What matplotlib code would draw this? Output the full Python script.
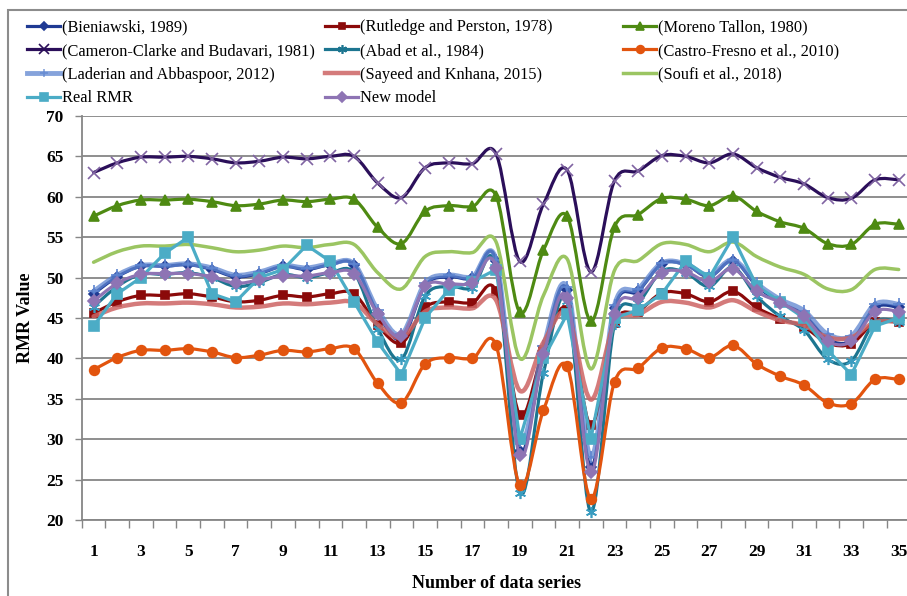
import matplotlib.pyplot as plt
import numpy as np
from matplotlib.path import Path
from matplotlib.patches import PathPatch, Rectangle
from matplotlib.lines import Line2D

plt.rcParams['font.family'] = ['Liberation Serif', 'DejaVu Serif']

series_no = list(range(1, 36))

bieniawski = [48.0, 50.1, 51.4, 51.4, 51.6, 51.0, 50.1, 50.5, 51.4, 51.0, 51.6, 51.6, 45.6, 42.4, 49.0, 50.1, 49.9, 52.1,
              28.6, 40.9, 48.5, 26.5, 46.2, 48.3, 51.7, 51.6, 50.1, 52.1, 49.0, 46.9, 45.4, 42.4, 42.2, 46.3, 46.3]
rutledge = [45.6, 47.0, 47.8, 47.8, 48.0, 47.6, 47.0, 47.2, 47.8, 47.6, 48.0, 48.0, 44.1, 41.9, 46.3, 47.0, 46.9, 48.3,
            33.0, 41.0, 46.0, 31.7, 44.4, 45.8, 48.1, 48.0, 47.0, 48.3, 46.3, 44.9, 43.9, 41.9, 41.8, 44.5, 44.5]
moreno = [57.6, 58.9, 59.6, 59.6, 59.7, 59.4, 58.9, 59.1, 59.6, 59.4, 59.7, 59.7, 56.2, 54.2, 58.2, 58.9, 58.8, 60.1,
          45.7, 53.4, 57.6, 44.6, 56.3, 57.8, 59.8, 59.7, 58.9, 60.1, 58.2, 56.9, 56.1, 54.2, 54.1, 56.6, 56.6]
cameron = [63.0, 64.2, 64.9, 64.9, 65.0, 64.7, 64.2, 64.4, 64.9, 64.7, 65.0, 65.0, 61.7, 59.9, 63.6, 64.2, 64.1, 65.3,
           52.0, 59.1, 63.3, 50.7, 62.0, 63.2, 65.1, 65.0, 64.2, 65.3, 63.6, 62.4, 61.6, 59.9, 59.8, 62.1, 62.1]
abad = [46.4, 48.9, 50.4, 50.4, 50.6, 50.0, 48.9, 49.4, 50.4, 50.0, 50.6, 50.6, 43.7, 39.9, 47.7, 48.9, 48.7, 51.3,
        23.4, 38.2, 47.1, 21.0, 44.3, 46.8, 50.8, 50.6, 48.9, 51.3, 47.7, 45.2, 43.5, 39.9, 39.7, 44.5, 44.5]
castro = [38.6, 40.1, 41.0, 41.0, 41.2, 40.8, 40.1, 40.4, 41.0, 40.8, 41.2, 41.2, 36.9, 34.5, 39.3, 40.1, 40.0, 41.6,
          24.3, 33.6, 39.0, 22.6, 37.1, 38.8, 41.3, 41.2, 40.1, 41.6, 39.3, 37.8, 36.7, 34.5, 34.4, 37.4, 37.4]
laderian = [48.3, 50.3, 51.5, 51.5, 51.7, 51.2, 50.3, 50.7, 51.5, 51.2, 51.7, 51.7, 46.0, 43.0, 49.3, 50.3, 50.1, 52.2,
            29.8, 41.5, 48.8, 27.8, 46.6, 48.6, 51.8, 51.7, 50.3, 52.2, 49.3, 47.3, 45.9, 43.0, 42.8, 46.7, 46.7]
sayeed = [45.2, 46.3, 46.8, 46.8, 46.9, 46.7, 46.3, 46.4, 46.8, 46.7, 46.9, 46.9, 44.2, 42.6, 45.8, 46.3, 46.2, 47.2,
          36.0, 42.0, 45.5, 34.9, 44.4, 45.4, 47.0, 46.9, 46.3, 47.2, 45.8, 44.7, 44.1, 42.6, 42.6, 44.5, 44.5]
soufi = [51.9, 53.2, 53.9, 53.9, 54.1, 53.7, 53.2, 53.4, 53.9, 53.7, 54.1, 54.1, 50.6, 48.6, 52.6, 53.2, 53.1, 54.4,
         40.0, 47.8, 52.3, 38.7, 50.9, 52.1, 54.2, 54.1, 53.2, 54.4, 52.6, 51.3, 50.4, 48.6, 48.5, 51.0, 51.0]
real_rmr = [44.0, 48.0, 50.0, 53.0, 55.0, 48.0, 47.0, 50.0, 51.0, 54.0, 52.0, 47.0, 42.0, 38.0, 45.0, 48.5, 49.5, 51.0,
            30.0, 40.0, 45.5, 30.0, 45.0, 46.0, 48.0, 52.0, 50.0, 55.0, 49.0, 47.0, 45.0, 41.0, 38.0, 44.0, 45.0]
new_model = [47.1, 49.3, 50.4, 50.5, 50.5, 50.1, 49.3, 49.7, 50.2, 50.2, 50.6, 50.5, 45.5, 42.8, 48.9, 49.2, 49.3, 51.2,
             28.0, 40.5, 47.5, 25.9, 45.5, 47.5, 50.6, 50.7, 49.5, 51.1, 48.3, 46.9, 45.2, 42.1, 42.1, 45.8, 45.8]

# label, values, color, marker, size, marker colour, line width, alpha, smooth
series = [
    ('(Bieniawski, 1989)', bieniawski, '#1F3A93', 'D', 5, '#1F3A93', 2.3, 1.0, True),
    ('(Rutledge and Perston, 1978)', rutledge, '#8B0A0A', 's', 6, '#8B0A0A', 2.3, 1.0, True),
    ('(Moreno Tallon, 1980)', moreno, '#4E8A12', '^', 6.5, '#4E8A12', 2.3, 1.0, True),
    ('(Cameron-Clarke and Budavari, 1981)', cameron, '#2B0F5A', 'x', 9, '#8064A2', 2.3, 1.0, True),
    ('(Abad et al., 1984)', abad, '#1C7590', (6, 2, 0), 8, '#3A9CC0', 2.3, 1.0, True),
    ('(Castro-Fresno et al., 2010)', castro, '#E2540E', 'o', 7, '#E2540E', 2.3, 1.0, True),
    ('(Laderian and Abbaspoor, 2012)', laderian, '#5E85D0', '+', 8, '#5E85D0', 3.5, 0.75, True),
    ('(Sayeed and Knhana, 2015)', sayeed, '#CD6464', None, 0, '#CD6464', 3.2, 0.85, True),
    ('(Soufi et al., 2018)', soufi, '#9BC562', None, 0, '#9BC562', 2.5, 1.0, True),
    ('Real RMR', real_rmr, '#4BACC6', 's', 7, '#4BACC6', 2.3, 1.0, False),
    ('New model', new_model, '#8E74B4', 'D', 6, '#8E74B4', 2.3, 1.0, True),
]


def smooth_path(x, y):
    pts = np.column_stack([x, y]).astype(float)
    n = len(pts)
    verts = [pts[0]]
    codes = [Path.MOVETO]
    for i in range(n - 1):
        p_prev = pts[i - 1] if i > 0 else pts[i]
        p_next = pts[i + 2] if i + 2 < n else pts[i + 1]
        verts += [pts[i] + (pts[i + 1] - p_prev) / 6, pts[i + 1] - (p_next - pts[i]) / 6, pts[i + 1]]
        codes += [Path.CURVE4] * 3
    return Path(verts, codes)


fig = plt.figure(figsize=(9.07, 5.96), dpi=100)
ax = fig.add_axes([0.0901, 0.1275, 0.9138, 0.6779])

handles = []
for k, (label, vals, color, marker, ms, mcol, lw, alpha, smooth) in enumerate(series):
    z = 3 + k * 0.1
    if smooth:
        ax.add_patch(PathPatch(smooth_path(series_no, vals), fill=False, ec=color, lw=lw,
                               alpha=alpha, zorder=z, capstyle='round', joinstyle='round'))
    else:
        ax.plot(series_no, vals, color=color, lw=lw, alpha=alpha, zorder=z)
    if marker is not None:
        ax.plot(series_no, vals, ls='none', marker=marker, ms=ms, color=mcol,
                mec=mcol, mew=1.2, zorder=z + 0.05)
    handles.append(Line2D([], [], color=color, lw=lw, alpha=alpha, marker=marker, ms=ms * 0.8,
                          mec=color, mfc=color, mew=1.2, label=label))

ax.set_xlim(0.5, 35.5)
ax.set_ylim(20, 70)
ax.set_yticks(range(20, 71, 5))
ax.set_xticks(range(1, 36, 2))
ax.set_xticks(np.arange(0.5, 35.6, 1), minor=True)
ax.tick_params(axis='x', which='major', length=0, pad=17, labelsize=12.5)
ax.tick_params(axis='x', which='minor', length=6, width=1, color='#868686', direction='out')
ax.tick_params(axis='y', length=5, width=1, color='#868686', pad=8, labelsize=12.5)
for lab in ax.get_xticklabels() + ax.get_yticklabels():
    lab.set_fontweight('bold')

ax.grid(axis='y', color='#868686', lw=1.3)
ax.set_axisbelow(True)
for s in ['top', 'right']:
    ax.spines[s].set_visible(False)
for s in ['left', 'bottom']:
    ax.spines[s].set_color('#868686')
    ax.spines[s].set_linewidth(1.3)

ax.set_ylabel('RMR Value', fontsize=13, fontweight='bold', labelpad=9)
ax.set_xlabel('Number of data series', fontsize=13, fontweight='bold', labelpad=11)

# legend in three columns
cols = [[0, 3, 6, 9], [1, 4, 7, 10], [2, 5, 8]]
col_x = [24 / 907, 322 / 907, 620 / 907]
for ci, idx in enumerate(cols):
    fig.legend(handles=[handles[i] for i in idx], loc='upper left',
               bbox_to_anchor=(col_x[ci], 1 - 16 / 596), frameon=False,
               fontsize=11.8, handlelength=2.0, handletextpad=0.1,
               labelspacing=0.47, borderaxespad=0, borderpad=0.2)

fig.add_artist(Rectangle((8 / 907, -0.1), 1.1, 1.1 - 10 / 596, transform=fig.transFigure,
                         fill=False, ec='#8c8c8c', lw=1.5))

fig.savefig('out.png', dpi=100)
